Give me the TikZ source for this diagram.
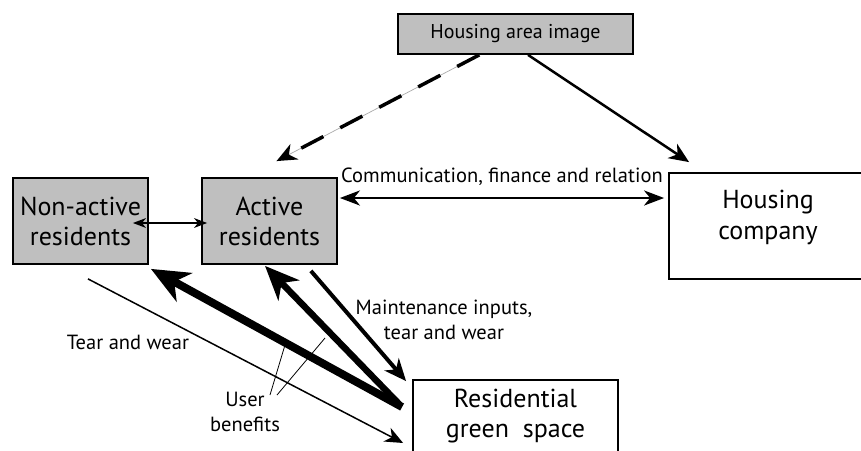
\documentclass[tikz,border=0pt]{standalone}
\usepackage{fontspec}
\setmainfont{PT Sans}
\usetikzlibrary{arrows.meta}
\definecolor{boxgrey}{RGB}{191,191,191}
\definecolor{dashgrey}{RGB}{170,170,170}

\begin{document}
\begin{tikzpicture}[x=1pt, y=-1pt,
            greybox/.style={rectangle, draw=black, line width=1.8pt, fill=boxgrey, inner sep=0pt, align=center, font=\fontsize{26}{30}\selectfont},
            whitebox/.style={greybox, fill=white},
            boxtext/.style={align=center, font=\fontsize{26}{31}\selectfont},
            lbl/.style={align=center, font=\fontsize{20.5}{25}\selectfont},
            tip/.style={-{Stealth[length=#1, width=0.85*#1, inset=0.3*#1]}},
            twotip/.style={{Stealth[length=#1, width=0.75*#1, inset=0.3*#1]}-{Stealth[length=#1, width=0.75*#1, inset=0.3*#1]}}
        ]
            \useasboundingbox (0,0) rectangle (861,450);
            \fill[white] (0,0) rectangle (861,450);
            \clip (0,0) rectangle (861,450);

            % boxes
            \node(image) at (515.5,34) [greybox, minimum width=235, minimum height=40, font=\fontsize{20}{24}\selectfont] {Housing area image};
            \node(nonactive) at (80.5,221) [greybox, minimum width=135, minimum height=86] {Non-active\\residents};
            \node(active) at (269.5,221) [greybox, minimum width=135, minimum height=86] {Active\\residents};
            \node(company) at (767,226) [whitebox, minimum width=196, minimum height=106] {};
            \node(companytext) at (768,217) [boxtext] {Housing\\company};
            \node(green) at (515.5,416) [whitebox, minimum width=205, minimum height=72] {Residential\\green\ \ space};

            % labels
            \node(commlabel) at (502,177) [lbl] {Communication, finance and relation};
            \node(maintlabel) at (444,320) [lbl] {Maintenance inputs,\\tear and wear};
            \node(tearlabel) at (128,342) [lbl] {Tear and wear};
            \node(benefit) at (245,412) [lbl] {User\\benefits};
            \coordinate(ubone) at (285,345);
            \coordinate(ubtwo) at (325,338);

            % image arrows
            \draw[dashgrey, line width=0.7pt] (image.210) -- ([xshift=7pt,yshift=16pt]active.north);
            \draw[line width=3.5pt, dash pattern=on 25pt off 19pt, tip=20pt] (image.210) -- ([xshift=7pt,yshift=16pt]active.north);
            \draw[line width=2.5pt, tip=20pt] ([xshift=12.5pt]image.south) -- ([xshift=21pt,yshift=10pt]company.north west);

            % resident arrows
            \draw[line width=2.5pt, twotip=20pt] ([xshift=2pt,yshift=23pt]active.east) -- ([xshift=-4pt,yshift=28pt]company.west);
            \draw[line width=1.5pt, twotip=13pt] ([xshift=-16pt,yshift=-2pt]nonactive.east) -- ([xshift=6pt,yshift=-2pt]active.west);

            % green space arrows
            \draw[line width=1.5pt, tip=18pt] ([xshift=7.5pt,yshift=-14pt]nonactive.south) -- ([xshift=-9pt,yshift=-27pt]green.west);
            \draw[line width=8pt, tip=38pt] ([xshift=-10pt,yshift=9pt]green.west) -- ([xshift=2pt,yshift=-4pt]nonactive.south east);
            \draw[line width=6.5pt, tip=34pt] ([xshift=-13pt,yshift=12pt]green.west) -- ([xshift=-4.5pt,yshift=-1pt]active.south);
            \draw[line width=4pt, tip=22pt] ([xshift=-27pt,yshift=-6pt]active.south east) -- ([xshift=-6pt,yshift=-2pt]green.north west);

            % leaders
            \draw[line width=0.8pt] ([xshift=25pt,yshift=17pt]benefit.center) -- (ubone);
            \draw[line width=0.8pt] ([xshift=32pt,yshift=17pt]benefit.center) -- (ubtwo);
        \end{tikzpicture}
\end{document}
